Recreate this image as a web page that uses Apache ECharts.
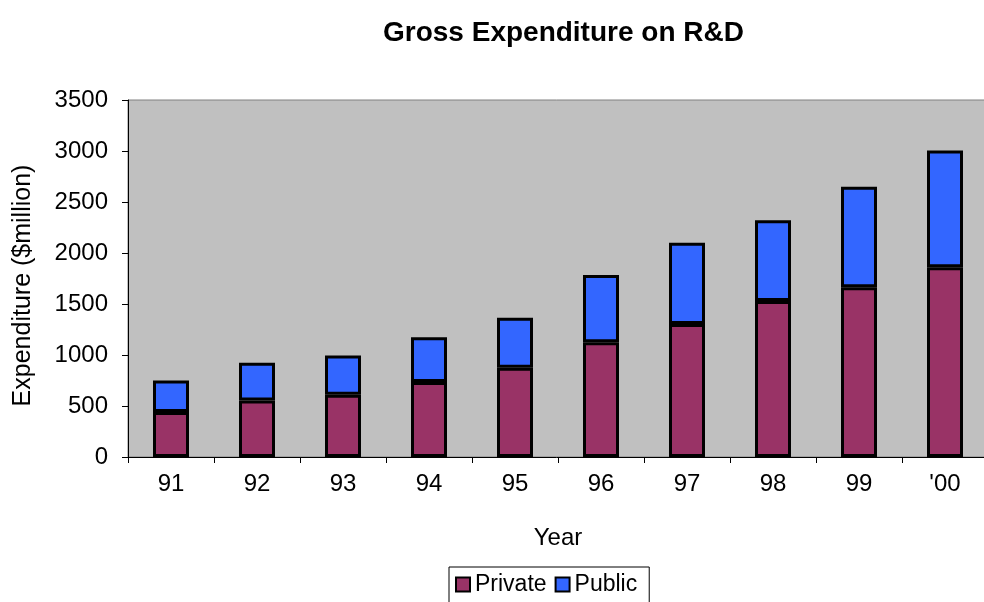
<!DOCTYPE html>
<html>
<head>
<meta charset="utf-8">
<script src="https://cdn.jsdelivr.net/npm/echarts@6/dist/echarts.min.js"></script>
<style>
  html, body { margin: 0; padding: 0; background: #fff; }
  #chart { width: 984px; height: 602px; }
</style>
</head>
<body>
<div id="chart"></div>
<script>
// data
var years = ['91', '92', '93', '94', '95', '96', '97', '98', '99', "'00"];
var privateSpend = [440, 555, 610, 735, 875, 1125, 1305, 1530, 1665, 1860];
var publicSpend = [310, 370, 385, 440, 490, 660, 795, 790, 985, 1145];
var yTicks = [0, 500, 1000, 1500, 2000, 2500, 3000, 3500];

var font = 'Liberation Sans, Arial, sans-serif';
var chart = echarts.init(document.getElementById('chart'));

var option = {
    animation: false,
    backgroundColor: '#fff',
    title: {
        text: 'Gross Expenditure on R&D',
        left: 378,
        top: 14,
        textStyle: { fontFamily: font, fontSize: 28, fontWeight: 'bold', color: '#000' }
    },
    legend: {
        data: ['Private', 'Public'],
        left: 449,
        top: 567,
        padding: [6, 12, 10, 6],
        itemWidth: 14,
        itemHeight: 14,
        itemGap: 8,
        borderColor: '#000',
        borderWidth: 1,
        icon: 'rect',
        itemStyle: { borderColor: '#000', borderWidth: 2 },
        textStyle: { fontFamily: font, fontSize: 23, color: '#000' }
    },
    grid: {
        left: 128,
        top: 100,
        width: 860,
        height: 357,
        outerBoundsMode: 'none',
        show: true,
        backgroundColor: '#C0C0C0',
        borderColor: '#808080',
        borderWidth: 1
    },
    xAxis: {
        type: 'category',
        data: years,
        name: 'Year',
        nameLocation: 'middle',
        nameGap: 69,
        nameTextStyle: { fontFamily: font, fontSize: 24, color: '#000' },
        axisLine: { lineStyle: { color: '#000', width: 1 } },
        axisTick: { show: true, length: 6, lineStyle: { color: '#000' } },
        axisLabel: { fontFamily: font, fontSize: 24, color: '#000', margin: 15 }
    },
    yAxis: {
        type: 'value',
        min: yTicks[0],
        max: yTicks[yTicks.length - 1],
        interval: 500,
        name: 'Expenditure ($million)',
        nameLocation: 'middle',
        nameGap: 92,
        nameTextStyle: { fontFamily: font, fontSize: 25, color: '#000', padding: [0, 14, 0, 0] },
        axisLine: { show: true, lineStyle: { color: '#000', width: 1 } },
        axisTick: { show: true, length: 6, lineStyle: { color: '#000' } },
        axisLabel: {
            fontFamily: font, fontSize: 24, color: '#000', margin: 20,
            formatter: function (v) { return String(v); }
        },
        splitLine: { show: false }
    },
    series: [
        {
            name: 'Private',
            type: 'bar',
            stack: 'total',
            barWidth: 36,
            data: privateSpend,
            itemStyle: { color: '#993366', borderColor: '#000', borderWidth: 3 }
        },
        {
            name: 'Public',
            type: 'bar',
            stack: 'total',
            barWidth: 36,
            data: publicSpend,
            itemStyle: { color: '#3366FF', borderColor: '#000', borderWidth: 3 }
        }
    ]
};

chart.setOption(option);
</script>
</body>
</html>
